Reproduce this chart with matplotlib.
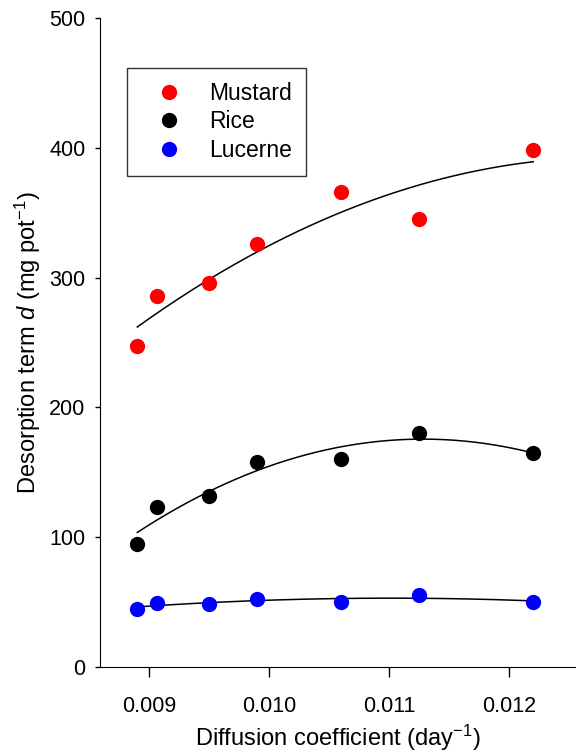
import numpy as np
import matplotlib
matplotlib.use('Agg')
import matplotlib.pyplot as plt

plt.rcParams['font.family'] = ['Liberation Sans', 'DejaVu Sans']
plt.rcParams['mathtext.fontset'] = 'custom'
plt.rcParams['mathtext.rm'] = 'Liberation Sans'
plt.rcParams['mathtext.it'] = 'Liberation Sans:italic'

# diffusion coefficient (day^-1)
diff_coef = [0.0089, 0.00906, 0.0095, 0.0099, 0.0106, 0.01125, 0.0122]

# desorption term d (mg pot^-1)
mustard = [247, 286, 296, 326, 366, 345, 398]
rice = [95, 123.5, 132, 158, 160.5, 180, 164.5]
lucerne = [45, 49.5, 48.3, 52.4, 50, 55.5, 50.3]

series = [('Mustard', mustard, '#ff0000'),
          ('Rice', rice, '#000000'),
          ('Lucerne', lucerne, '#0000ff')]

fig = plt.figure(figsize=(5.76, 7.53), dpi=100)
ax = fig.add_axes([0.1736, 0.1142, 0.8264, 0.8619])

x = np.array(diff_coef)
xs = np.linspace(x.min(), x.max(), 200)
for name, vals, col in series:
    ax.plot(x, vals, 'o', color=col, markersize=11, markeredgewidth=0,
            label=name, zorder=3)
    # quadratic regression line
    p = np.polyfit(x, vals, 2)
    ax.plot(xs, np.polyval(p, xs), color='black', lw=1.1, zorder=2)

ax.set_xlim(0.008589, 0.012556)
ax.set_ylim(0, 500)
ax.set_xticks([0.009, 0.010, 0.011, 0.012])
ax.set_xticklabels(['0.009', '0.010', '0.011', '0.012'])
ax.set_yticks([0, 100, 200, 300, 400, 500])

ax.spines['top'].set_visible(False)
ax.spines['right'].set_visible(False)
ax.tick_params(axis='both', labelsize=15.5, direction='out', width=1)
ax.tick_params(axis='x', length=7, pad=14)
ax.tick_params(axis='y', length=3.6, pad=7)

ax.set_xlabel('Diffusion coefficient (day$^{-1}$)', fontsize=17, labelpad=4)
ax.set_ylabel(r'Desorption term $\it{d}$ (mg pot$^{-1}$)', fontsize=17, labelpad=4)

# only point handles in the legend
handles, labels = ax.get_legend_handles_labels()
leg = ax.legend(handles[:3], labels[:3], loc='upper left',
                bbox_to_anchor=(0.0567, 0.923), fontsize=16.5,
                frameon=True, fancybox=False, edgecolor='black',
                borderpad=0.6, labelspacing=0.25, handletextpad=0.5,
                handlelength=2.5, borderaxespad=0)
leg.get_frame().set_linewidth(1.0)

fig.savefig('out.png', dpi=100)
